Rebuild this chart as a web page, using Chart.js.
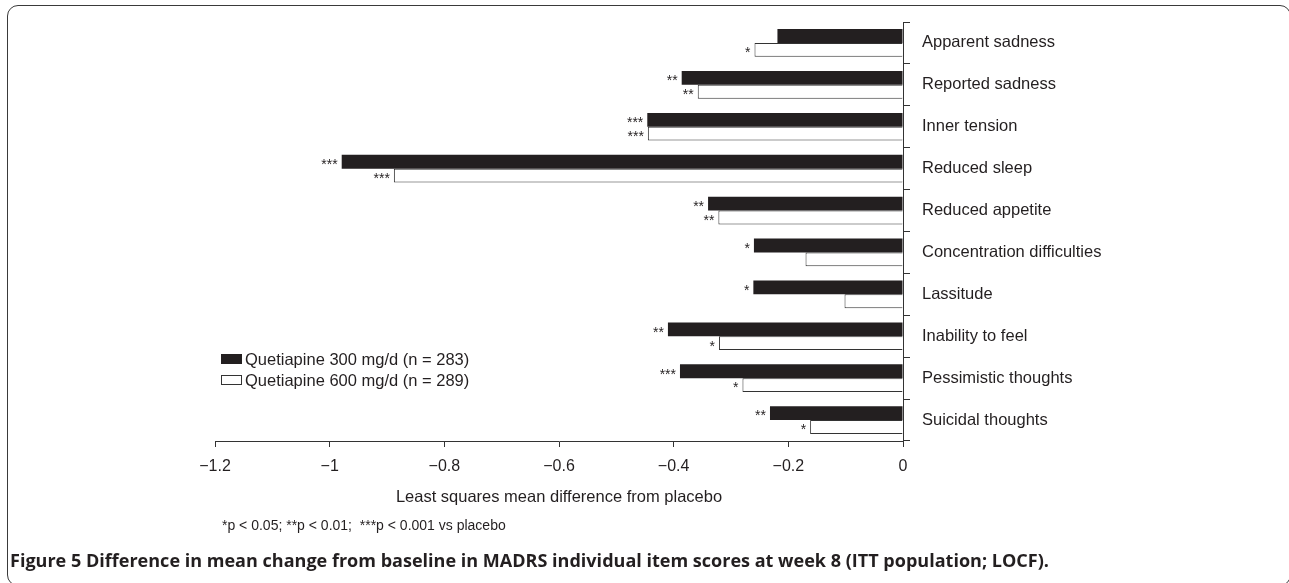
<!DOCTYPE html>
<html><head><meta charset="utf-8">
<script src="https://cdn.jsdelivr.net/npm/chart.js@4.4.1/dist/chart.umd.min.js"></script>
<style>
html,body{margin:0;padding:0;background:#fff;}
#wrap{position:relative;width:1289px;height:583px;overflow:hidden;background:#fff;}
#frame{position:absolute;left:7px;top:5px;width:1284px;height:581px;border:1.5px solid #3a3a3a;border-radius:11px;box-sizing:border-box;}
#c{position:absolute;left:0;top:0;}
#foot{position:absolute;left:222px;top:516px;font:14px "Liberation Sans",Arial,sans-serif;color:#231f20;white-space:pre;line-height:18px;}
#cap{position:absolute;left:10px;top:550px;font-family:"Open Sans",sans-serif;font-weight:700;font-size:15px;color:#231f20;white-space:nowrap;line-height:20px;}
</style></head>
<body>
<div id="wrap">
<div id="frame"></div>
<canvas id="c" width="1289" height="583"></canvas>
<div id="foot">*p &lt; 0.05; **p &lt; 0.01;  ***p &lt; 0.001 vs placebo</div>
<div id="cap">Figure 5 Difference in mean change from baseline in MADRS individual item scores at week 8 (ITT population; LOCF).</div>
</div>
<script>
const categories = ['Apparent sadness','Reported sadness','Inner tension','Reduced sleep','Reduced appetite','Concentration difficulties','Lassitude','Inability to feel','Pessimistic thoughts','Suicidal thoughts'];
const q300 = [-0.219,-0.386,-0.446,-0.979,-0.340,-0.260,-0.261,-0.410,-0.389,-0.232];
const q600 = [-0.259,-0.358,-0.445,-0.888,-0.322,-0.170,-0.102,-0.321,-0.280,-0.162];
const sig300 = ['','**','***','***','**','*','*','**','***','**'];
const sig600 = ['*','**','***','***','**','','','*','*','*'];
const seriesLabels = ['Quetiapine 300 mg/d (n = 283)','Quetiapine 600 mg/d (n = 289)'];
const xTickValues = [-1.2,-1,-0.8,-0.6,-0.4,-0.2,0];
const xTickLabels = ['\u22121.2','\u22121','\u22120.8','\u22120.6','\u22120.4','\u22120.2','0'];
const axisTitle = 'Least squares mean difference from placebo';

const FONT = '"Liberation Sans", Arial, sans-serif';
const INK = '#231f20';

const starPlugin = {
  id: 'stars',
  afterDatasetsDraw(chart) {
    const ctx = chart.ctx;
    const sigs = [sig300, sig600];
    ctx.save();
    ctx.font = '14px ' + FONT;
    ctx.fillStyle = INK;
    ctx.textAlign = 'right';
    ctx.textBaseline = 'middle';
    chart.data.datasets.forEach((ds, di) => {
      chart.getDatasetMeta(di).data.forEach((bar, i) => {
        const s = sigs[di][i];
        if (s) ctx.fillText(s, bar.x - 4, bar.y + 3.5);
      });
    });
    ctx.restore();
  }
};

const legendPlugin = {
  id: 'customLegend',
  afterDraw(chart) {
    const ctx = chart.ctx;
    const rows = [359, 380];
    ctx.save();
    ctx.font = '16.5px ' + FONT;
    ctx.textBaseline = 'middle';
    ctx.textAlign = 'left';
    chart.data.datasets.forEach((ds, di) => {
      const y = rows[di];
      ctx.fillStyle = ds.backgroundColor;
      ctx.fillRect(221, y - 5, 21, 10);
      if (ds.borderWidth) {
        ctx.strokeStyle = ds.borderColor;
        ctx.lineWidth = 1;
        ctx.strokeRect(221.5, y - 4.5, 20, 9);
      }
      ctx.fillStyle = INK;
      ctx.fillText(ds.label, 245, y + 1);
    });
    ctx.restore();
  }
};

new Chart(document.getElementById('c'), {
  type: 'bar',
  data: {
    labels: categories,
    datasets: [
      { label: seriesLabels[0], data: q300, backgroundColor: '#231f20', borderWidth: 0 },
      { label: seriesLabels[1], data: q600, backgroundColor: '#ffffff', borderColor: '#333333', borderWidth: 1 }
    ]
  },
  options: {
    indexAxis: 'y',
    responsive: false,
    animation: false,
    devicePixelRatio: 1,
    layout: { padding: { left: 215, top: 22, right: 0, bottom: 60 } },
    plugins: { legend: { display: false }, tooltip: { enabled: false } },
    datasets: { bar: { categoryPercentage: 0.66, barPercentage: 1.0 } },
    scales: {
      x: {
        type: 'linear', position: 'bottom', min: -1.2, max: 0,
        afterBuildTicks: (s) => { s.ticks = xTickValues.map(v => ({ value: v })); },
        afterFit: (s) => { s.height = 82; },
        ticks: { callback: (v, i) => xTickLabels[i], font: { size: 16, family: FONT }, color: INK, padding: 10, maxRotation: 0, autoSkip: false },
        grid: { drawOnChartArea: false, drawTicks: true, tickLength: 6, color: '#333', lineWidth: 1 },
        border: { display: true, color: '#333', width: 1 },
        title: { display: true, text: axisTitle, font: { size: 16.5, family: FONT }, color: INK, padding: { top: 0, bottom: 16 } }
      },
      y: {
        type: 'category', position: 'right',
        afterFit: (s) => { s.width = 386; },
        ticks: { font: { size: 16.5, family: FONT }, color: INK, padding: 12, crossAlign: 'near' },
        grid: { drawOnChartArea: false, offset: true, drawTicks: true, tickLength: 7, color: '#333', lineWidth: 1 },
        border: { display: true, color: '#333', width: 1 }
      }
    }
  },
  plugins: [starPlugin, legendPlugin]
});

(function fitCaption(){
  const cap = document.getElementById('cap');
  const w = cap.getBoundingClientRect().width;
  if (w > 0) cap.style.fontSize = (15 * 1040 / w).toFixed(2) + 'px';
})();
</script>
</body></html>
